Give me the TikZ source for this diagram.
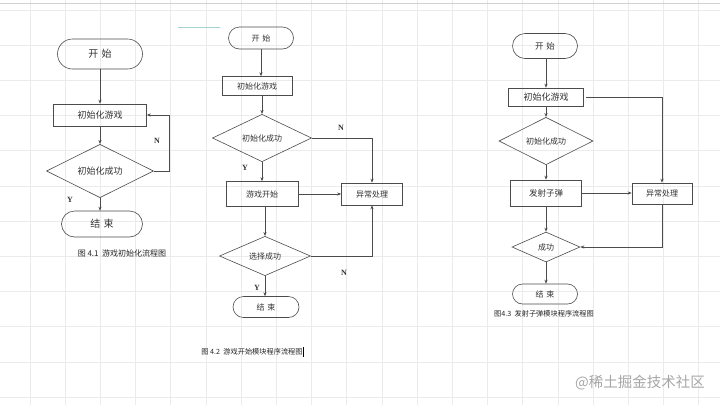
\documentclass[tikz,border=0pt]{standalone}
\usepackage{fontspec}
\setmainfont{Liberation Serif}
\newfontfamily\cjk{Noto Sans CJK SC}
\usetikzlibrary{shapes.geometric,shapes.misc,arrows.meta}
\newcommand{\fs}[1]{\fontsize{#1}{#1}\selectfont}
\begin{document}
\begin{tikzpicture}[x=1pt,y=-1pt,
  base/.style={draw=black!70, line width=0.6pt, inner sep=0pt, text=black!80, font=\cjk\fs{8}},
  term/.style={base, rounded rectangle},
  proc/.style={base, rectangle},
  dec/.style={base, diamond},
  arr/.style={-{Stealth[length=4pt,width=3.2pt]}, draw=black!70, line width=0.6pt},
  lab/.style={font=\bfseries\fs{8}, text=black!80, inner sep=0pt},
  captxt/.style={font=\cjk\fs{7.2}, text=black!85, inner sep=0pt},
  gridln/.style={draw=black!8, line width=0.8pt}]
\useasboundingbox (0,0) rectangle (720,405);
\fill[white] (0,0) rectangle (720,405);
% background grid
\foreach \k in {-1,...,19} \draw[gridln] ({30+35.2*\k},0) -- ({30+35.2*\k},405);
\foreach \k in {0,...,11} \draw[gridln] (0,{10+35.2*\k}) -- (720,{10+35.2*\k});
\draw[black!18, line width=0.8pt] (0,3) -- (720,3);
\draw[teal!35, line width=0.8pt] (178,27) -- (220,27);

% ---------- chart 1 ----------
\node[term, minimum width=85pt, minimum height=30pt, font=\cjk\fs{10}] (s1) at (100,54) {开\,\,始};
\node[proc, minimum width=93pt, minimum height=22pt, font=\cjk\fs{9}] (i1) at (100,115) {初始化游戏};
\node[dec, minimum width=107pt, minimum height=46pt, font=\cjk\fs{9}] (d1) at (100,171) {初始化成功};
\node[term, minimum width=81pt, minimum height=26pt, font=\cjk\fs{10}] (e1) at (102,224) {结\,\,束};
\draw[arr] (s1.south) -- (s1.south |- i1.north);
\draw[arr] (i1.south) -- (d1.north);
\draw[arr] (d1.south) -- (d1.south |- e1.north);
\draw[arr] (d1.east) -- ++(15,0) |- (i1.east);
\node[lab] (n1) at (157,141) {N};
\node[lab] (y1) at (70,200) {Y};
\node[captxt, font=\cjk\fs{8}] (c1) at (122,253) {图 4.1\ \ 游戏初始化流程图};

% ---------- chart 2 ----------
\node[term, minimum width=65pt, minimum height=22pt] (s2) at (261,38) {开\,\,始};
\node[proc, minimum width=70pt, minimum height=19pt] (i2) at (257,86) {初始化游戏};
\node[dec, minimum width=99pt, minimum height=32pt] (d2) at (262,138) {初始化成功};
\node[proc, minimum width=72pt, minimum height=25pt] (g2) at (262,194) {游戏开始};
\node[proc, minimum width=61pt, minimum height=22pt] (x2) at (372,194) {异常处理};
\node[dec, minimum width=91pt, minimum height=36pt] (c2) at (265,256) {选择成功};
\node[term, minimum width=66pt, minimum height=21pt] (e2) at (266,307) {结\,\,束};
\draw[arr] (s2.south) -- (s2.south |- i2.north);
\draw[arr] (d2.north |- i2.south) -- (d2.north);
\draw[arr] (d2.south) -- (d2.south |- g2.north);
\draw[arr] (d2.east) -| (x2.north);
\draw[arr] (g2.east) -- (x2.west);
\draw[arr] (c2.north |- g2.south) -- (c2.north);
\draw[arr] (c2.east) -| (x2.south);
\draw[arr] (c2.south) -- (c2.south |- e2.north);
\node[lab] (n2) at (341,128) {N};
\node[lab] (n3) at (344,273) {N};
\node[lab] (y2) at (245,168) {Y};
\node[lab] (y3) at (257,288) {Y};
\node[captxt] (c2cap) at (252,352) {图 4.2\ \ 游戏开始模块程序流程图};
\draw[black, line width=1.2pt] (c2cap.east) ++(1,-5) -- ++(0,10);

% ---------- chart 3 ----------
\node[term, minimum width=65pt, minimum height=25pt, font=\cjk\fs{8.5}] (s3) at (545,46) {开\,\,始};
\node[proc, minimum width=75pt, minimum height=18pt, font=\cjk\fs{9}] (i3) at (546,97) {初始化游戏};
\node[dec, minimum width=94pt, minimum height=29pt] (d3) at (546,141) {初始化成功};
\node[proc, minimum width=71pt, minimum height=26pt, font=\cjk\fs{8.5}] (f3) at (546,193) {发射子弹};
\node[proc, minimum width=60pt, minimum height=21pt] (x3) at (662,193.5) {异常处理};
\node[dec, minimum width=68pt, minimum height=30pt] (c3) at (546,247) {成功};
\node[term, minimum width=65pt, minimum height=20pt] (e3) at (545,294) {结\,\,束};
\draw[arr] (s3.south -| i3.north) -- (i3.north);
\draw[arr] (i3.south) -- (d3.north);
\draw[arr] (d3.south) -- (f3.north);
\draw[arr] (f3.south) -- (c3.north);
\draw[arr] (c3.south) -- (c3.south |- e3.north);
\draw[arr] ([xshift=2pt]i3.east) -| (x3.north);
\draw[arr] (f3.east) -- (f3.east -| x3.west);
\draw[arr] (x3.south) |- (c3.east);
\node[captxt] (c3cap) at (544,314) {图4.3\ \ 发射子弹模块程序流程图};

% watermark
\node[font=\cjk\fs{14.5}, text=black!35, inner sep=0pt] (wm) at (640,383) {@稀土掘金技术社区};
\end{tikzpicture}
\end{document}
